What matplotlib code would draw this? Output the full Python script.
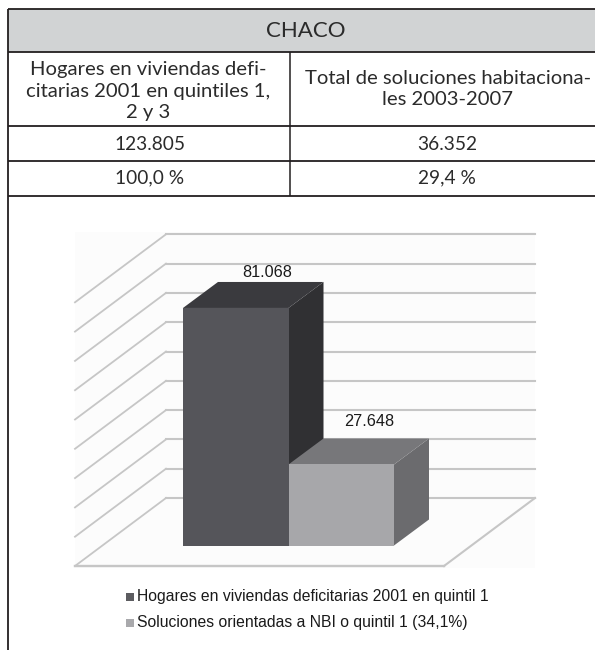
"""CHACO table and pseudo-3D bar chart, drawn on one pixel-sized axes."""
import matplotlib
matplotlib.use("Agg")
import matplotlib.pyplot as plt
from matplotlib.patches import Polygon, Rectangle

plt.rcParams["font.family"] = ["Lato", "DejaVu Sans"]

# data
title = "CHACO"
col_heads = ["Hogares en viviendas defi-\ncitarias 2001 en quintiles 1,\n2 y 3",
             "Total de soluciones habitaciona-\nles 2003-2007"]
row_totals = ["123.805", "36.352"]
row_shares = ["100,0 %", "29,4 %"]

bar_values = [81068, 27648]
bar_labels = ["81.068", "27.648"]
legend_labels = ["Hogares en viviendas deficitarias 2001 en quintil 1",
                 "Soluciones orientadas a NBI o quintil 1 (34,1%)"]
grid_values = list(range(0, 100000, 10000))

# colours: front, top, side
bar_colors = [("#55555a", "#3a3a3e", "#303033"), ("#a7a7aa", "#77777a", "#6b6b6e")]
legend_colors = ["#5c5c60", "#a9a9ac"]
LINE = "#231f20"
GRID = "#c6c6c6"

# pixel geometry of the chart
BASE_Y = 545.5        # front face bottom
BAR_LEFT = 183
BAR_W = 105.5
PX_PER_UNIT = 29.3 / 10000
BACK_X0, BACK_X1, BACK_Y = 166, 535, 498
WALL_DX, WALL_DY = 91, 68
DEPTH_DX, DEPTH_DY = 35, 26
LABEL_DX = [-3.5, -7.5]
LABEL_DY = [-9, -17]

fig = plt.figure(figsize=(5.95, 6.5), dpi=100)
ax = fig.add_axes([0, 0, 1, 1])
ax.set_xlim(0, 595)
ax.set_ylim(650, 0)
ax.axis("off")

# -----------------------------------------------------------------------------
# table
# -----------------------------------------------------------------------------
ax.add_patch(Rectangle((7.5, 9), 590, 42.5, fc="#d1d3d4", ec="none", zorder=1))
for y in [9, 51.5, 126, 160.5, 195.5]:
    ax.plot([7.5, 595], [y, y], color=LINE, lw=1.3, zorder=2, solid_capstyle="butt")
ax.plot([7.5, 7.5], [8.5, 650], color=LINE, lw=1.3, zorder=2, solid_capstyle="butt")
ax.plot([290, 290], [51.5, 195.5], color=LINE, lw=1.1, zorder=2, solid_capstyle="butt")

TXT = "#2b2b2b"
ax.text(306, 31, title, ha="center", va="center", fontsize=16, color=TXT)
ax.text(148.5, 91, col_heads[0], ha="center", va="center", fontsize=14.6, color=TXT,
        linespacing=1.32)
ax.text(448, 89, col_heads[1], ha="center", va="center", fontsize=14.6, color=TXT,
        linespacing=1.32)
for cx, total, share in zip([150, 447], row_totals, row_shares):
    ax.text(cx, 144, total, ha="center", va="center", fontsize=13.8, color=TXT)
    ax.text(cx, 178, share, ha="center", va="center", fontsize=13.8, color=TXT)

# -----------------------------------------------------------------------------
# chart background, walls, floor
# -----------------------------------------------------------------------------
ax.add_patch(Rectangle((75, 232), 460, 336, fc="#fcfcfc", ec="none", zorder=1))
for v in grid_values:
    y = BACK_Y - v * PX_PER_UNIT
    ax.plot([BACK_X0, BACK_X1], [y, y], color=GRID, lw=1.5, zorder=2)
    ax.plot([BACK_X0, BACK_X0 - WALL_DX], [y, y + WALL_DY], color=GRID, lw=1.3, zorder=2)
ax.plot([BACK_X1, BACK_X1 - WALL_DX], [BACK_Y, BACK_Y + WALL_DY], color=GRID, lw=1.5, zorder=2)
ax.plot([BACK_X0 - WALL_DX, BACK_X1 - WALL_DX], [BACK_Y + WALL_DY] * 2, color=GRID, lw=1.7, zorder=2)

# -----------------------------------------------------------------------------
# bars
# -----------------------------------------------------------------------------
for i, (val, lab, (front, top, side)) in enumerate(zip(bar_values, bar_labels, bar_colors)):
    x0 = BAR_LEFT + i * BAR_W
    x1 = x0 + BAR_W
    y_top = BASE_Y - val * PX_PER_UNIT
    z = 3 + i
    ax.add_patch(Polygon([(x1, BASE_Y), (x1 + DEPTH_DX, BASE_Y - DEPTH_DY),
                          (x1 + DEPTH_DX, y_top - DEPTH_DY), (x1, y_top)],
                         fc=side, ec="none", zorder=z))
    ax.add_patch(Polygon([(x0, y_top), (x0 + DEPTH_DX, y_top - DEPTH_DY),
                          (x1 + DEPTH_DX, y_top - DEPTH_DY), (x1, y_top)],
                         fc=top, ec="none", zorder=z))
    ax.add_patch(Rectangle((x0, y_top), BAR_W, val * PX_PER_UNIT, fc=front, ec="none", zorder=z))
    ax.text(x0 + BAR_W / 2 + DEPTH_DX + LABEL_DX[i], y_top - DEPTH_DY + LABEL_DY[i], lab,
            ha="center", va="center", fontsize=11.7, family="Liberation Sans",
            color="#1a1a1a", zorder=6)

# -----------------------------------------------------------------------------
# legend
# -----------------------------------------------------------------------------
for lab, col, y in zip(legend_labels, legend_colors, [597, 622.5]):
    ax.add_patch(Rectangle((126, y - 4), 8, 8, fc=col, ec="none", zorder=3))
    ax.text(137, y, lab, ha="left", va="center", fontsize=11.3,
            family="Liberation Sans", color="#1a1a1a")

fig.savefig("out.png", dpi=100)
